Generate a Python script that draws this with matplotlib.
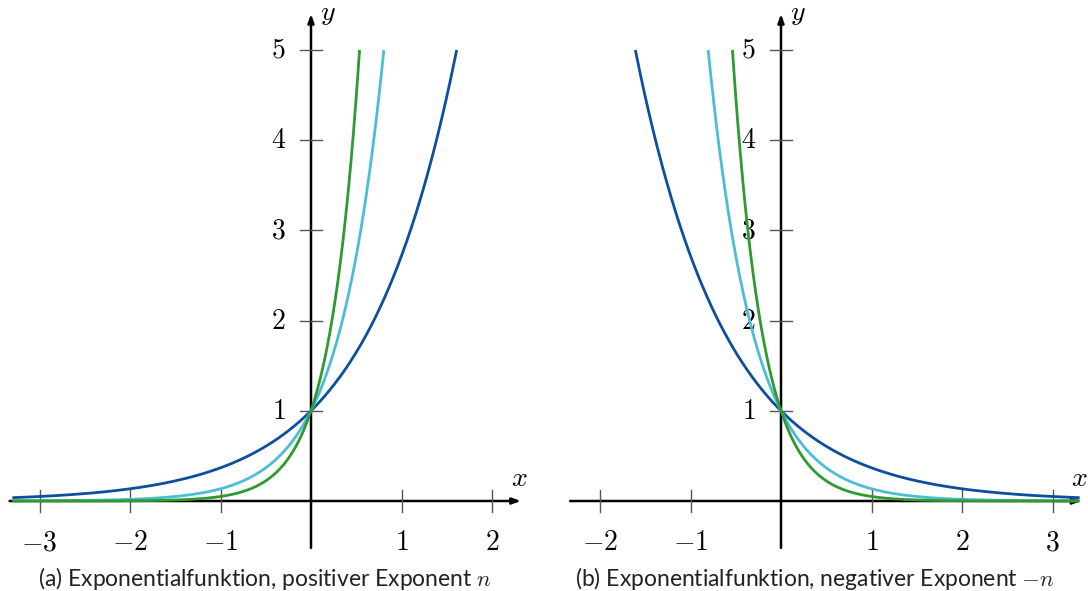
import numpy as np
import matplotlib
matplotlib.use("Agg")
import matplotlib.pyplot as plt

plt.rcParams['mathtext.fontset'] = 'cm'

# exponents n of e^(n x), one curve each
exponents = [1, 2, 3]
colors = ['#0d4f9e', '#4cbdd4', '#2e9a30']
y_max = 5

xticks_a = [-3, -2, -1, 1, 2]
xticks_b = [-2, -1, 1, 2, 3]
yticks = [1, 2, 3, 4, 5]

xlim_a = (-3.33, 2.33)
xlim_b = (-2.33, 3.33)
ylim = (-0.52, 5.45)

captions = [r"(a) Exponentialfunktion, positiver Exponent $n$",
            r"(b) Exponentialfunktion, negativer Exponent $-n$"]

fig = plt.figure(figsize=(10.88, 5.91), dpi=100)
W, H = 1088, 591


def make_axes(x0_px, xlim):
    sx = 90.5
    left = x0_px + xlim[0] * sx
    width = (xlim[1] - xlim[0]) * sx
    top = 501 - ylim[1] * 90.2
    height = (ylim[1] - ylim[0]) * 90.2
    ax = fig.add_axes([left / W, 1 - (top + height) / H, width / W, height / H])
    ax.set_xlim(*xlim)
    ax.set_ylim(*ylim)
    ax.axis('off')
    return ax


def draw_axes(ax, xlim, xticks, label_x):
    # axis lines with arrows
    ax.annotate('', xy=(xlim[1] - 0.01, 0), xytext=(xlim[0], 0),
                arrowprops=dict(arrowstyle='-|>,head_length=0.5,head_width=0.18',
                                color='black', lw=1.8, shrinkA=0, shrinkB=0), zorder=1)
    ax.annotate('', xy=(0, 5.4), xytext=(0, ylim[0]),
                arrowprops=dict(arrowstyle='-|>,head_length=0.5,head_width=0.18',
                                color='black', lw=1.8, shrinkA=0, shrinkB=0), zorder=1)
    for t in xticks:
        ax.plot([t, t], [-0.12, 0.12], color='#555555', lw=1.0, zorder=1)
        ax.text(t, -0.3, r'$%d$' % t, ha='center', va='top', fontsize=20)
    for t in yticks:
        ax.plot([-0.12, 0.12], [t, t], color='#555555', lw=1.0, zorder=1)
        ax.text(-0.28, t, r'$%d$' % t, ha='right', va='center', fontsize=20)
    ax.text(label_x, 0.1, r'$x$', ha='center', va='bottom', fontsize=20)
    ax.text(0.1, 5.25, r'$y$', ha='left', va='bottom', fontsize=20)


# (a) positive exponent
ax1 = make_axes(311, xlim_a)
draw_axes(ax1, xlim_a, xticks_a, 2.3)
for n, c in zip(exponents, colors):
    x = np.linspace(-3.3, np.log(y_max) / n, 400)
    ax1.plot(x, np.exp(n * x), color=c, lw=2, zorder=3, solid_capstyle='butt')

# (b) negative exponent
ax2 = make_axes(781, xlim_b)
draw_axes(ax2, xlim_b, xticks_b, 3.3)
for n, c in zip(exponents, colors):
    x = np.linspace(-np.log(y_max) / n, 3.3, 400)
    ax2.plot(x, np.exp(-n * x), color=c, lw=2, zorder=3, solid_capstyle='butt')

fig.text(265 / W, 1 - 578 / H, captions[0], ha='center', va='center',
         fontsize=16.5, family='Lato', color='#222222')
fig.text(815 / W, 1 - 578 / H, captions[1], ha='center', va='center',
         fontsize=16.5, family='Lato', color='#222222')

fig.savefig('out.png', dpi=100)
